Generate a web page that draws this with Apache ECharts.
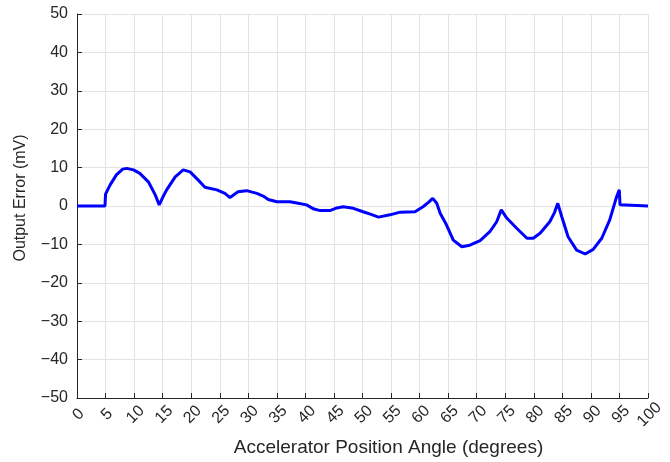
<!DOCTYPE html>
<html>
<head>
<meta charset="utf-8">
<script src="https://cdn.jsdelivr.net/npm/echarts@6/dist/echarts.min.js"></script>
<style>html,body{margin:0;padding:0;background:#fff}#c{width:670px;height:462px}</style>
</head>
<body>
<div id="c"></div>
<script>
// Accelerator position angle (degrees) and output error (mV)
var angle = [0, 4.9, 5.0, 5.8, 6.9, 8.0, 8.7, 9.9, 11.0, 12.5, 13.7, 14.4, 15.0, 15.7, 17.2, 18.6, 19.8, 21.2, 22.4, 24.5,
  25.9, 26.8, 28.2, 29.7, 31.5, 32.6, 33.5, 35.0, 37.3, 38.5, 40.2, 41.5, 42.6, 44.3, 45.5, 46.6, 48.4, 50.1, 51.5, 52.8,
  54.8, 56.6, 59.2, 60.6, 61.6, 62.3, 63.0, 63.6, 64.7, 65.9, 67.4, 68.8, 70.6, 72.3, 73.5, 74.3, 75.3, 77.0, 78.8, 79.9,
  81.1, 82.8, 83.6, 84.2, 84.9, 86.0, 87.5, 89.0, 90.4, 91.9, 93.3, 94.5, 94.97, 95.1, 100];
var outputError = [0, 0, 3.1, 5.5, 8.1, 9.6, 9.8, 9.4, 8.5, 6.3, 2.9, 0.3, 2.2, 4.2, 7.6, 9.4, 8.9, 6.8, 4.9, 4.2,
  3.3, 2.2, 3.7, 4.0, 3.3, 2.6, 1.7, 1.1, 1.1, 0.8, 0.3, -0.8, -1.2, -1.2, -0.5, -0.2, -0.6, -1.5, -2.2, -2.9,
  -2.3, -1.6, -1.5, -0.2, 1.0, 2.0, 0.7, -1.9, -4.9, -8.9, -10.6, -10.2, -9.0, -6.7, -4.1, -1.0, -3.2, -5.8, -8.4, -8.4,
  -7.1, -4.1, -1.8, 0.7, -2.8, -8.0, -11.5, -12.5, -11.3, -8.4, -3.6, 2.4, 4.2, 0.3, 0];

var xTicks = [0, 100, 5];   // min, max, step
var yTicks = [-50, 50, 10];

var points = angle.map(function (a, i) { return [a, outputError[i]]; });
var font = 'Liberation Sans, Arial, sans-serif';
var axisColor = '#262626';
var gridColor = '#e3e3e3';

function fmt(v) { return v < 0 ? '\u2212' + Math.abs(v) : String(v); }

var chart = echarts.init(document.getElementById('c'), null, { renderer: 'canvas' });
chart.setOption({
  animation: false,
  backgroundColor: '#ffffff',
  grid: { left: 77, right: 22, top: 14, bottom: 64, containLabel: false, outerBoundsMode: 'none' },
  xAxis: {
    type: 'value', min: xTicks[0], max: xTicks[1], interval: xTicks[2],
    name: 'Accelerator Position Angle (degrees)', nameLocation: 'middle', nameGap: 40,
    nameTextStyle: { fontFamily: font, fontSize: 19, color: axisColor, padding: [0, 0, 0, 52] },
    axisLine: { show: true, onZero: false, lineStyle: { color: axisColor, width: 1 } },
    axisTick: { show: true, inside: true, length: 5, lineStyle: { color: axisColor } },
    axisLabel: { rotate: 45, align: 'center', verticalAlign: 'middle', margin: 18,
      fontFamily: font, fontSize: 16, color: axisColor, formatter: fmt, padding: [0, 0, 0, 4] },
    splitLine: { show: true, lineStyle: { color: gridColor, width: 1 } }
  },
  yAxis: {
    type: 'value', min: yTicks[0], max: yTicks[1], interval: yTicks[2],
    name: 'Output Error (mV)', nameLocation: 'middle', nameGap: 48,
    nameTextStyle: { fontFamily: font, fontSize: 16, color: axisColor, padding: [0, 0, 0, 16] },
    axisLine: { show: true, onZero: false, lineStyle: { color: axisColor, width: 1 } },
    axisTick: { show: true, inside: true, length: 5, lineStyle: { color: axisColor } },
    axisLabel: { margin: 9, fontFamily: font, fontSize: 16, color: axisColor, formatter: fmt },
    splitLine: { show: true, lineStyle: { color: gridColor, width: 1 } }
  },
  series: [{
    type: 'line', data: points, showSymbol: false, smooth: false,
    lineStyle: { color: '#0000ff', width: 3 }
  }]
});
</script>
</body>
</html>
